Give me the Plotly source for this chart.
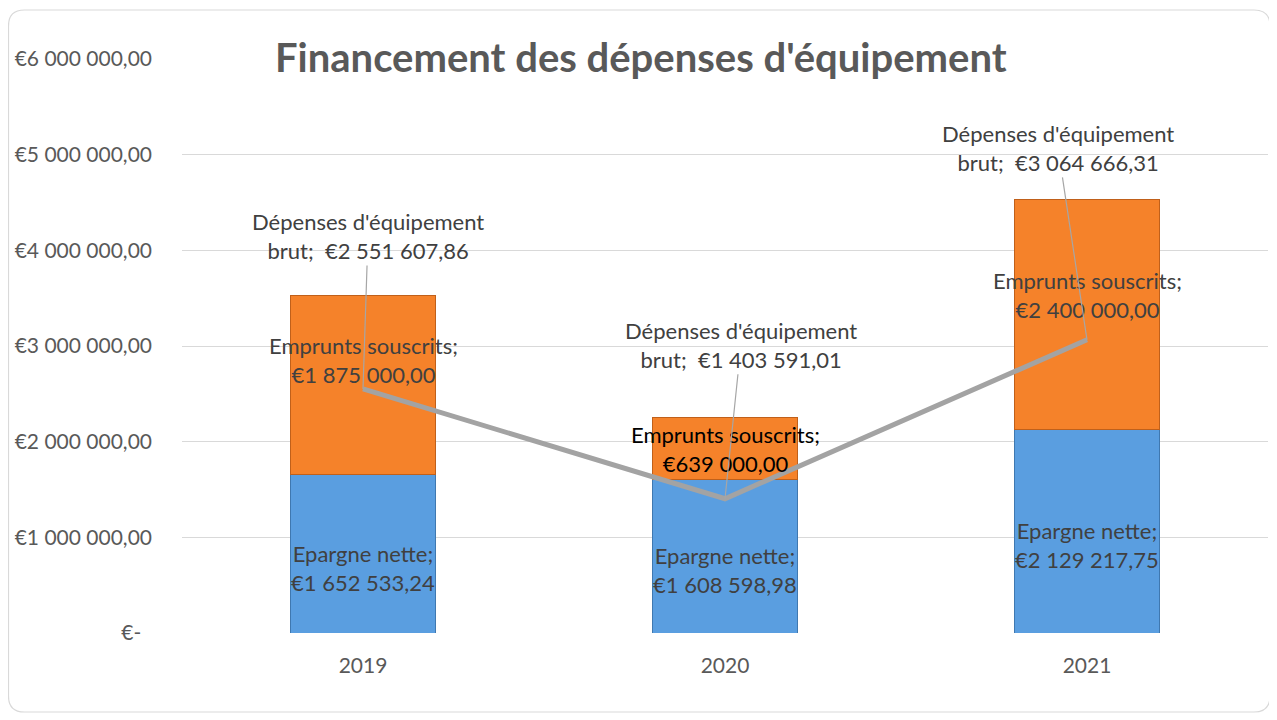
import plotly.graph_objects as go

years = ["2019", "2020", "2021"]
epargne = [1652533.24, 1608598.98, 2129217.75]
emprunts = [1875000.00, 639000.00, 2400000.00]
depenses = [2551607.86, 1403591.01, 3064666.31]
ytick_vals = [0, 1e6, 2e6, 3e6, 4e6, 5e6, 6e6]
ytick_text = ["€-\u00a0\u00a0", "€1 000 000,00", "€2 000 000,00", "€3 000 000,00",
              "€4 000 000,00", "€5 000 000,00", "€6 000 000,00"]


def eur(v):
    s = f"{v:,.2f}"
    ip, dp = s.split(".")
    return "€" + ip.replace(",", " ") + "," + dp


OFF = 8  # page body margin
W, H = 1277 - OFF, 720 - OFF
# plot area in screen pixels: x 182..1268, y 59..633
L, T = 182 - OFF, 59 - OFF
R = W - (1268 - OFF)
B = H - (633 - OFF)
PW, PH = W - L - R, H - T - B
FONT = "Lato"
GREY = "#595959"
LBL = "#404040"


def px(x):  # screen x -> paper
    return (x - OFF - L) / PW


def py(y):  # screen y -> paper
    return (H - B - (y - OFF)) / PH


fig = go.Figure()
fig.add_trace(go.Bar(x=years, y=epargne, name="Epargne nette",
                     marker=dict(color="#5A9EE0", line=dict(color="#3F78B0", width=1))))
fig.add_trace(go.Bar(x=years, y=emprunts, name="Emprunts souscrits",
                     marker=dict(color="#F5822A", line=dict(color="#C0601A", width=1))))
fig.add_trace(go.Scatter(x=years, y=depenses, mode="lines", name="Dépenses d'équipement brut",
                         line=dict(color="#A3A3A3", width=5)))

ann = []
for i in range(len(years)):
    ann.append(dict(x=i, y=epargne[i] / 2, yshift=-14, showarrow=False,
                    text=f"Epargne nette;<br>{eur(epargne[i])}",
                    font=dict(family=FONT, size=22, color=LBL)))
emp_shift = [25, 0, 20]
emp_col = [LBL, "#000000", LBL]
for i in range(len(years)):
    ann.append(dict(x=i, y=epargne[i] + emprunts[i] / 2, yshift=emp_shift[i], showarrow=False,
                    text=f"Emprunts souscrits;<br>{eur(emprunts[i])}",
                    font=dict(family=FONT, size=22, color=emp_col[i])))
offs = [(5, -153), (16, -154), (-29, -192)]
for i in range(len(years)):
    ann.append(dict(x=i, y=depenses[i], ax=offs[i][0], ay=offs[i][1], showarrow=True,
                    arrowhead=0, arrowwidth=1.2, arrowcolor="#A6A6A6", standoff=0,
                    text=f"Dépenses d'équipement<br>brut;  {eur(depenses[i])}",
                    font=dict(family=FONT, size=22, color=LBL)))
ann.append(dict(xref="paper", yref="paper", x=px(641), y=py(57), xanchor="center",
                yanchor="middle", showarrow=False,
                text="<b>Financement des dépenses d'équipement</b>", bgcolor="white",
                font=dict(family=FONT, size=40, color=GREY)))

x0, x1, y0, y1, r = 8.5, 1270, 10, 712, 16
path = (f"M {px(x0 + r)},{py(y0)} L {px(x1 - r)},{py(y0)} "
        f"Q {px(x1)},{py(y0)} {px(x1)},{py(y0 + r)} L {px(x1)},{py(y1 - r)} "
        f"Q {px(x1)},{py(y1)} {px(x1 - r)},{py(y1)} L {px(x0 + r)},{py(y1)} "
        f"Q {px(x0)},{py(y1)} {px(x0)},{py(y1 - r)} L {px(x0)},{py(y0 + r)} "
        f"Q {px(x0)},{py(y0)} {px(x0 + r)},{py(y0)} Z")

fig.update_layout(
    width=W, height=H, margin=dict(l=L, r=R, t=T, b=B, autoexpand=False),
    barmode="stack", bargap=0.6, showlegend=False,
    paper_bgcolor="white", plot_bgcolor="white",
    font=dict(family=FONT, size=21, color=GREY),
    annotations=ann,
    shapes=[dict(type="path", xref="paper", yref="paper", path=path,
                 line=dict(color="#D9D9D9", width=1.2), layer="below")],
    xaxis=dict(type="category", range=[-0.5, len(years) - 0.5], autorange=False,
               showgrid=False, showline=False, ticks="", ticklabelstandoff=18,
               tickfont=dict(size=21, color=GREY)),
    yaxis=dict(range=[0, 6e6], autorange=False, tickvals=ytick_vals, ticktext=ytick_text,
               gridcolor="#D9D9D9", gridwidth=1, zeroline=False, showline=False,
               ticklabelstandoff=29, tickfont=dict(size=21, color=GREY)),
)
fig.write_html("out.html")
